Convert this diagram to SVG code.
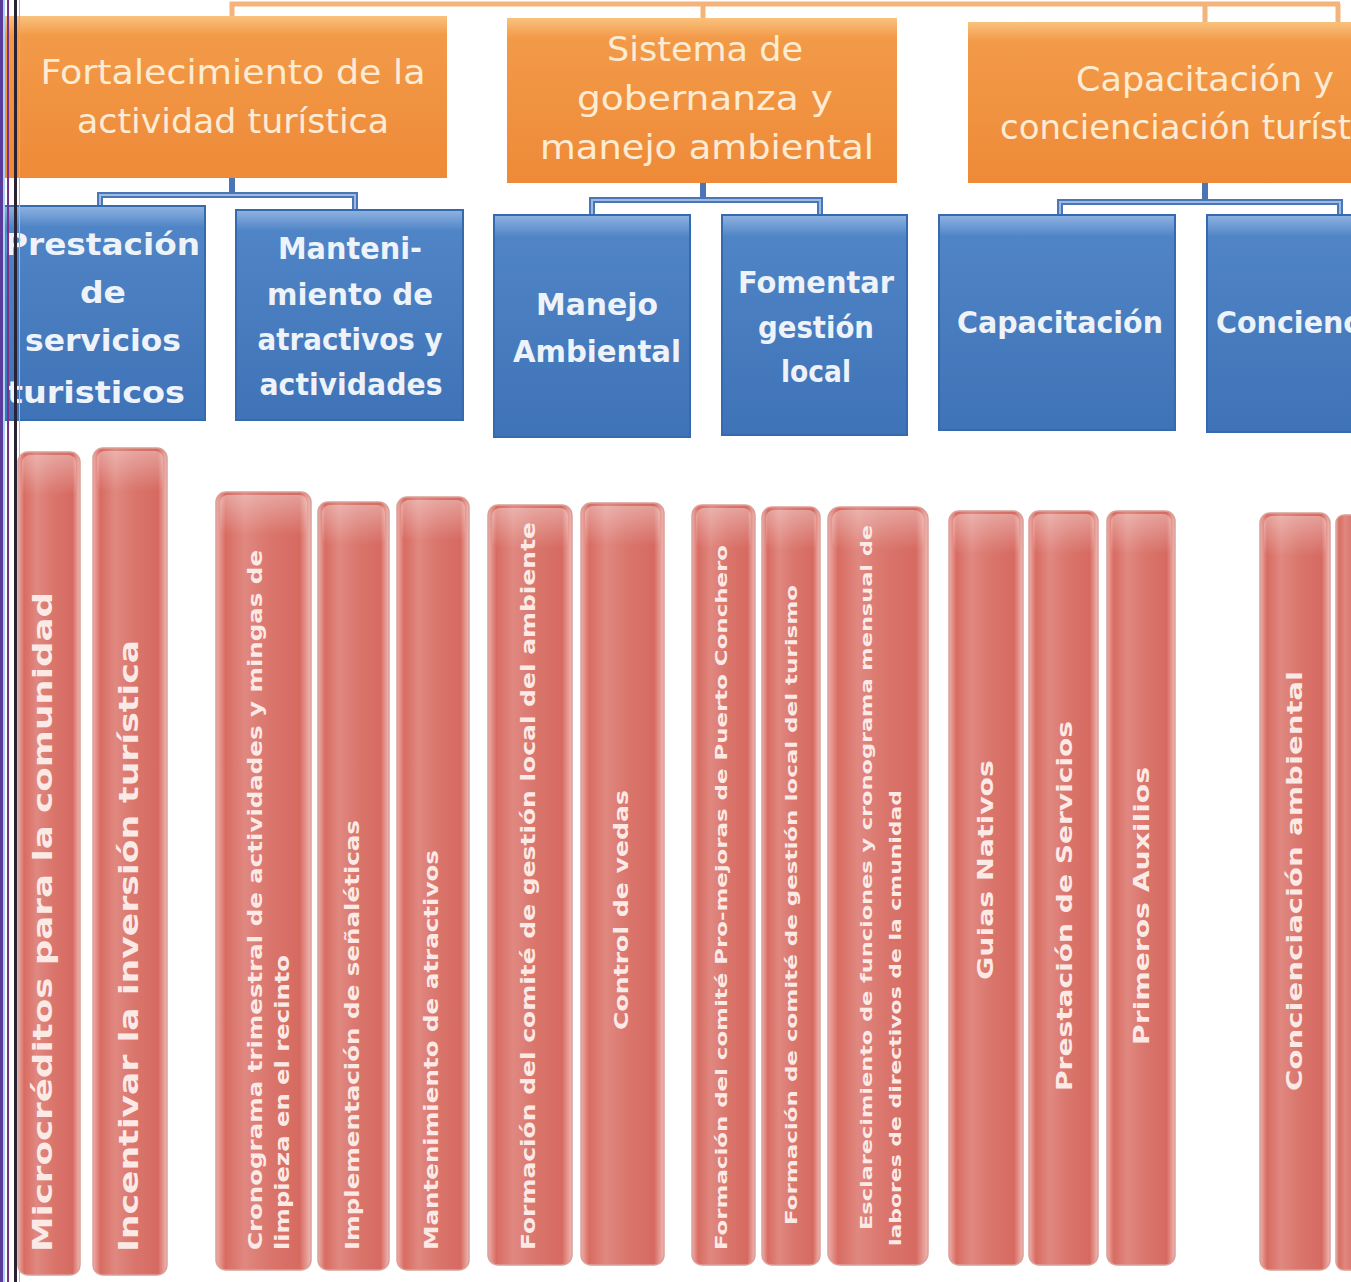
<svg xmlns="http://www.w3.org/2000/svg" width="1351" height="1282" viewBox="0 0 1351 1282">
<defs>
<linearGradient id="gOr" x1="0" y1="0" x2="0" y2="1">
<stop offset="0" stop-color="#F9C27E"/><stop offset="0.12" stop-color="#F29A48"/><stop offset="1" stop-color="#EE8A38"/>
</linearGradient>
<linearGradient id="gBl" x1="0" y1="0" x2="0" y2="1">
<stop offset="0" stop-color="#8FB3E2"/><stop offset="0.1" stop-color="#4F84C6"/><stop offset="1" stop-color="#3F73B7"/>
</linearGradient>
<linearGradient id="gRd" x1="0" y1="0" x2="1" y2="0">
<stop offset="0" stop-color="#EDAEA8"/><stop offset="0.1" stop-color="#D86C62"/><stop offset="0.3" stop-color="#E08880"/><stop offset="0.55" stop-color="#DA766D"/><stop offset="0.88" stop-color="#D66A61"/><stop offset="1" stop-color="#F0B8B2"/>
</linearGradient>
<linearGradient id="gRdTop" x1="0" y1="0" x2="0" y2="1">
<stop offset="0" stop-color="#FFFFFF" stop-opacity="0.35"/><stop offset="1" stop-color="#FFFFFF" stop-opacity="0"/>
</linearGradient>
</defs>
<style>
.or{fill:url(#gOr);}
.bl{fill:url(#gBl);stroke:#356AAE;stroke-width:2;}
.rd{fill:url(#gRd);stroke:#D9A09A;stroke-width:1.5;}
.hl{fill:url(#gRdTop);}
.tOr{fill:#FDEBD3;font-family:"Liberation Sans Narrow","DejaVu Sans Condensed","Liberation Sans",sans-serif;font-size:33px;text-anchor:middle;}
.tBl{fill:#EEF3FA;font-family:"DejaVu Sans Condensed","Liberation Sans",sans-serif;font-weight:bold;font-size:30px;text-anchor:middle;}
.tRd{fill:#FBE9E6;font-family:"DejaVu Sans Condensed","Liberation Sans",sans-serif;font-weight:bold;dominant-baseline:central;}
.cOr{fill:none;stroke:#F4B479;stroke-width:5;}
.cBl{fill:none;stroke:#4A76B5;stroke-width:6;}
.cBlIn{fill:none;stroke:#9DBBE2;stroke-width:2;}
</style>
<rect width="1351" height="1282" fill="#FFFFFF"/>

<g id="connectors">
<path class="cOr" d="M232,16 V4 H1340 M703,4 V18 M1205,4 V22 M1338,4 V22"/>
<path class="cBl" d="M232,178 V195 M100,207 V195 H355 V210"/>
<path class="cBlIn" d="M100,207 V195 H355 V210"/>
<path class="cBl" d="M703,183 V200 M592,215 V200 H820 V215"/>
<path class="cBlIn" d="M592,215 V200 H820 V215"/>
<path class="cBl" d="M1205,183 V202 M1060,215 V202 H1340 V215"/>
<path class="cBlIn" d="M1060,215 V202 H1340 V215"/>
</g>

<g id="n-fortalecimiento">
<rect class="or" x="0" y="16" width="447" height="162"/>
<text class="tOr" x="233" y="84" textLength="385" lengthAdjust="spacingAndGlyphs">Fortalecimiento de la</text>
<text class="tOr" x="233" y="133" textLength="312" lengthAdjust="spacingAndGlyphs">actividad turística</text>
</g>
<g id="n-sistema">
<rect class="or" x="507" y="18" width="390" height="165"/>
<text class="tOr" x="705" y="61" textLength="196" lengthAdjust="spacingAndGlyphs">Sistema de</text>
<text class="tOr" x="705" y="110" textLength="256" lengthAdjust="spacingAndGlyphs">gobernanza y</text>
<text class="tOr" x="707" y="159" textLength="334" lengthAdjust="spacingAndGlyphs">manejo ambiental</text>
</g>
<g id="n-capacitacion-top">
<rect class="or" x="968" y="22" width="383" height="161"/>
<text class="tOr" x="1205" y="91" textLength="258" lengthAdjust="spacingAndGlyphs">Capacitación y</text>
<text class="tOr" x="1000" y="139" style="text-anchor:start" textLength="400" lengthAdjust="spacingAndGlyphs">concienciación turística</text>
</g>

<g id="n-prestacion">
<rect class="bl" x="-2" y="206" width="207" height="214"/>
<text class="tBl" x="102" y="255" textLength="196" lengthAdjust="spacingAndGlyphs">Prestación</text>
<text class="tBl" x="103" y="303" textLength="46" lengthAdjust="spacingAndGlyphs">de</text>
<text class="tBl" x="103" y="351" textLength="156" lengthAdjust="spacingAndGlyphs">servicios</text>
<text class="tBl" x="96" y="403" textLength="178" lengthAdjust="spacingAndGlyphs">turisticos</text>
</g>
<g id="n-mantenimiento">
<rect class="bl" x="236" y="210" width="227" height="210"/>
<text class="tBl" x="350" y="259" textLength="144" lengthAdjust="spacingAndGlyphs">Manteni-</text>
<text class="tBl" x="350" y="305" textLength="166" lengthAdjust="spacingAndGlyphs">miento de</text>
<text class="tBl" x="350" y="350" textLength="185" lengthAdjust="spacingAndGlyphs">atractivos y</text>
<text class="tBl" x="351" y="395" textLength="183" lengthAdjust="spacingAndGlyphs">actividades</text>
</g>
<g id="n-manejo">
<rect class="bl" x="494" y="215" width="196" height="222"/>
<text class="tBl" x="597" y="315" textLength="122" lengthAdjust="spacingAndGlyphs">Manejo</text>
<text class="tBl" x="597" y="362" textLength="168" lengthAdjust="spacingAndGlyphs">Ambiental</text>
</g>
<g id="n-fomentar">
<rect class="bl" x="722" y="215" width="185" height="220"/>
<text class="tBl" x="816" y="293" textLength="156" lengthAdjust="spacingAndGlyphs">Fomentar</text>
<text class="tBl" x="816" y="338" textLength="116" lengthAdjust="spacingAndGlyphs">gestión</text>
<text class="tBl" x="816" y="382" textLength="70" lengthAdjust="spacingAndGlyphs">local</text>
</g>
<g id="n-capacitacion">
<rect class="bl" x="939" y="215" width="236" height="215"/>
<text class="tBl" x="1060" y="333" textLength="206" lengthAdjust="spacingAndGlyphs">Capacitación</text>
</g>
<g id="n-concienciacion">
<rect class="bl" x="1207" y="215" width="150" height="217"/>
<text class="tBl" x="1216" y="333" style="text-anchor:start" textLength="240" lengthAdjust="spacingAndGlyphs">Concienciación</text>
</g>

<g id="n-microcreditos">
<rect class="rd" x="18" y="452" width="62" height="823" rx="10"/>
<rect class="hl" x="22" y="455" width="54" height="40" rx="8"/>
<text class="tRd" transform="translate(42,1252) rotate(-90)" font-size="27" textLength="660" lengthAdjust="spacingAndGlyphs">Microcréditos para la comunidad</text>
</g>
<g id="n-incentivar">
<rect class="rd" x="93" y="448" width="74" height="827" rx="10"/>
<rect class="hl" x="97" y="451" width="66" height="40" rx="8"/>
<text class="tRd" transform="translate(128,1252) rotate(-90)" font-size="27" textLength="612" lengthAdjust="spacingAndGlyphs">Incentivar la inversión turística</text>
</g>
<g id="n-cronograma">
<rect class="rd" x="216" y="492" width="95" height="778" rx="10"/>
<rect class="hl" x="220" y="495" width="87" height="40" rx="8"/>
<text class="tRd" transform="translate(255,1250) rotate(-90)" font-size="19" textLength="700" lengthAdjust="spacingAndGlyphs">Cronograma trimestral de actividades y mingas de</text>
<text class="tRd" transform="translate(282,1250) rotate(-90)" font-size="19" textLength="295" lengthAdjust="spacingAndGlyphs">limpieza en el recinto</text>
</g>
<g id="n-senaleticas">
<rect class="rd" x="318" y="502" width="71" height="768" rx="10"/>
<rect class="hl" x="322" y="505" width="63" height="40" rx="8"/>
<text class="tRd" transform="translate(352,1250) rotate(-90)" font-size="19" textLength="430" lengthAdjust="spacingAndGlyphs">Implementación de señaléticas</text>
</g>
<g id="n-mant-atractivos">
<rect class="rd" x="397" y="497" width="72" height="773" rx="10"/>
<rect class="hl" x="401" y="500" width="64" height="40" rx="8"/>
<text class="tRd" transform="translate(431,1250) rotate(-90)" font-size="19" textLength="400" lengthAdjust="spacingAndGlyphs">Mantenimiento de atractivos</text>
</g>
<g id="n-comite-ambiente">
<rect class="rd" x="488" y="505" width="84" height="760" rx="10"/>
<rect class="hl" x="492" y="508" width="76" height="40" rx="8"/>
<text class="tRd" transform="translate(528,1250) rotate(-90)" font-size="20" textLength="728" lengthAdjust="spacingAndGlyphs">Formación del comité de gestión local del ambiente</text>
</g>
<g id="n-vedas">
<rect class="rd" x="581" y="503" width="83" height="762" rx="10"/>
<rect class="hl" x="585" y="506" width="75" height="40" rx="8"/>
<text class="tRd" transform="translate(621,1030) rotate(-90)" font-size="20" textLength="240" lengthAdjust="spacingAndGlyphs">Control de vedas</text>
</g>
<g id="n-promejoras">
<rect class="rd" x="692" y="505" width="63" height="760" rx="10"/>
<rect class="hl" x="696" y="508" width="55" height="40" rx="8"/>
<text class="tRd" transform="translate(722,1250) rotate(-90)" font-size="15" textLength="705" lengthAdjust="spacingAndGlyphs">Formación del comité Pro-mejoras de Puerto Conchero</text>
</g>
<g id="n-comite-turismo">
<rect class="rd" x="762" y="507" width="58" height="758" rx="10"/>
<rect class="hl" x="766" y="510" width="50" height="40" rx="8"/>
<text class="tRd" transform="translate(792,1225) rotate(-90)" font-size="15" textLength="640" lengthAdjust="spacingAndGlyphs">Formación de comité de gestión local del turismo</text>
</g>
<g id="n-esclarecimiento">
<rect class="rd" x="828" y="507" width="100" height="758" rx="12"/>
<rect class="hl" x="832" y="510" width="92" height="40" rx="10"/>
<text class="tRd" transform="translate(866,1230) rotate(-90)" font-size="16" textLength="705" lengthAdjust="spacingAndGlyphs">Esclarecimiento de funciones y cronograma mensual de</text>
<text class="tRd" transform="translate(895,1246) rotate(-90)" font-size="16" textLength="456" lengthAdjust="spacingAndGlyphs">labores de directivos de la cmunidad</text>
</g>
<g id="n-guias">
<rect class="rd" x="949" y="511" width="74" height="754" rx="10"/>
<rect class="hl" x="953" y="514" width="66" height="40" rx="8"/>
<text class="tRd" transform="translate(985,980) rotate(-90)" font-size="22" textLength="220" lengthAdjust="spacingAndGlyphs">Guias Nativos</text>
</g>
<g id="n-prest-servicios">
<rect class="rd" x="1029" y="511" width="69" height="754" rx="10"/>
<rect class="hl" x="1033" y="514" width="61" height="40" rx="8"/>
<text class="tRd" transform="translate(1064,1091) rotate(-90)" font-size="22" textLength="370" lengthAdjust="spacingAndGlyphs">Prestación de Servicios</text>
</g>
<g id="n-primeros">
<rect class="rd" x="1107" y="511" width="68" height="754" rx="10"/>
<rect class="hl" x="1111" y="514" width="60" height="40" rx="8"/>
<text class="tRd" transform="translate(1141,1045) rotate(-90)" font-size="22" textLength="278" lengthAdjust="spacingAndGlyphs">Primeros Auxilios</text>
</g>
<g id="n-conc-ambiental">
<rect class="rd" x="1260" y="513" width="70" height="757" rx="10"/>
<rect class="hl" x="1264" y="516" width="62" height="40" rx="8"/>
<text class="tRd" transform="translate(1294,1091) rotate(-90)" font-size="22" textLength="420" lengthAdjust="spacingAndGlyphs">Concienciación ambiental</text>
</g>
<g id="n-cut-right">
<rect class="rd" x="1336" y="515" width="30" height="755" rx="8"/>
</g>

<g id="scan-edge">
<rect x="0" y="0" width="3" height="1282" fill="#5A3A9A"/>
<rect x="3" y="0" width="2" height="1282" fill="#A8D4F0"/>
<rect x="7" y="0" width="2" height="1282" fill="#7A2F8A"/>
<rect x="14" y="0" width="3" height="1282" fill="#2A2233"/>
<rect x="19" y="0" width="1" height="1282" fill="#B9A8D8"/>
</g>
</svg>
